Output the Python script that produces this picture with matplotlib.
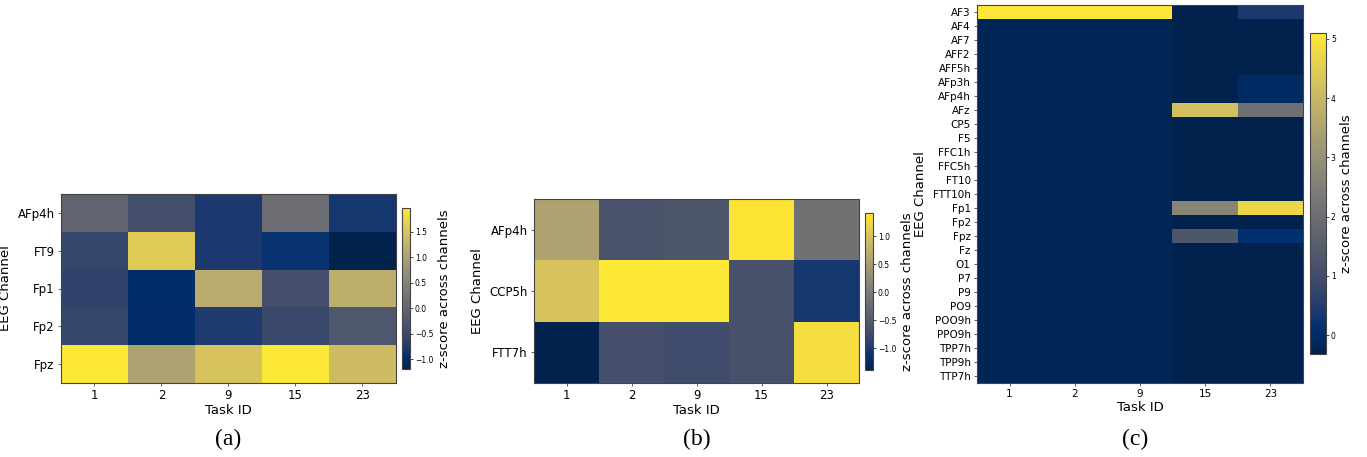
import numpy as np
import matplotlib.pyplot as plt

tasks = ['1', '2', '9', '15', '23']

# panel (a)
chan_a = ['AFp4h', 'FT9', 'Fp1', 'Fp2', 'Fpz']
z_a = np.array([
    [0.00, -0.40, -0.78, 0.16, -0.82],
    [-0.56, 1.58, -0.78, -0.88, -1.19],
    [-0.60, -0.97, 1.17, -0.37, 1.20],
    [-0.56, -1.00, -0.75, -0.50, -0.24],
    [1.96, 1.02, 1.49, 1.95, 1.39],
])

# panel (b)
chan_b = ['AFp4h', 'CCP5h', 'FTT7h']
z_b = np.array([
    [0.58, -0.60, -0.55, 1.38, -0.13],
    [1.00, 1.42, 1.42, -0.63, -1.05],
    [-1.39, -0.66, -0.72, -0.63, 1.30],
])

# panel (c)
chan_c = ['AF3', 'AF4', 'AF7', 'AFF2', 'AFF5h', 'AFp3h', 'AFp4h', 'AFz', 'CP5',
          'F5', 'FFC1h', 'FFC5h', 'FT10', 'FTT10h', 'Fp1', 'Fp2', 'Fpz', 'Fz',
          'O1', 'P7', 'P9', 'PO9', 'POO9h', 'PPO9h', 'TPP7h', 'TPP9h', 'TTP7h']
col_1 = [5.10] + [-0.196] * 26
col_2 = [5.10] + [-0.196] * 26
col_9 = [5.10] + [-0.196] * 26
col_15 = [-0.32, -0.32, -0.32, -0.32, -0.32, -0.32, -0.32, 4.20, -0.32,
          -0.32, -0.32, -0.32, -0.32, -0.32, 2.67, -0.32, 1.31, -0.32,
          -0.32, -0.32, -0.32, -0.32, -0.32, -0.32, -0.32, -0.32, -0.32]
col_23 = [0.39, -0.30, -0.30, -0.30, -0.30, -0.05, -0.05, 2.07, -0.30,
          -0.30, -0.30, -0.30, -0.30, -0.30, 4.73, -0.30, 0.11, -0.30,
          -0.30, -0.30, -0.30, -0.30, -0.30, -0.30, -0.30, -0.30, -0.30]
z_c = np.array([col_1, col_2, col_9, col_15, col_23]).T

W, H = 1367, 457
fig = plt.figure(figsize=(W / 100, H / 100), dpi=100)


def box(x0, y0, x1, y1):
    return [x0 / W, 1 - y1 / H, (x1 - x0) / W, (y1 - y0) / H]


def panel(z, chans, ax_box, cb_box, tick_fs, label_fs, cbt_fs, cap, cap_x):
    ax = fig.add_axes(box(*ax_box))
    im = ax.imshow(z, cmap='cividis', aspect='auto', interpolation='nearest')
    ax.set_xticks(range(len(tasks)))
    ax.set_xticklabels(tasks, fontsize=tick_fs)
    ax.set_yticks(range(len(chans)))
    ax.set_yticklabels(chans, fontsize=tick_fs)
    ax.tick_params(length=2.5, width=0.6, pad=2, color='#444444')
    for s in ax.spines.values():
        s.set_color('#444444')
    ax.set_xlabel('Task ID', fontsize=label_fs, labelpad=1)
    ax.set_ylabel('EEG Channel', fontsize=label_fs, labelpad=4)
    cax = fig.add_axes(box(*cb_box))
    cb = fig.colorbar(im, cax=cax)
    cb.outline.set_edgecolor('#444444')
    cb.ax.tick_params(labelsize=cbt_fs, length=2, width=0.5, pad=1.5)
    cb.set_label('z-score across channels', fontsize=label_fs, labelpad=3)
    fig.text(cap_x / W, 1 - 439 / H, cap, family='Liberation Serif',
             fontsize=17, ha='center', va='center')
    return ax


panel(z_a, chan_a, (61, 194, 396, 383), (402, 208, 410, 369), 8.5, 9.5, 5.5, '(a)', 228)
panel(z_b, chan_b, (534, 199, 859, 383), (865, 213, 873, 370), 8.5, 9.5, 5.5, '(b)', 697)
ax_c = panel(z_c, chan_c, (977, 5, 1303, 383), (1310, 33, 1326, 354), 7.5, 9.5, 5.5, '(c)', 1135)

plt.savefig('out.png', dpi=100)
